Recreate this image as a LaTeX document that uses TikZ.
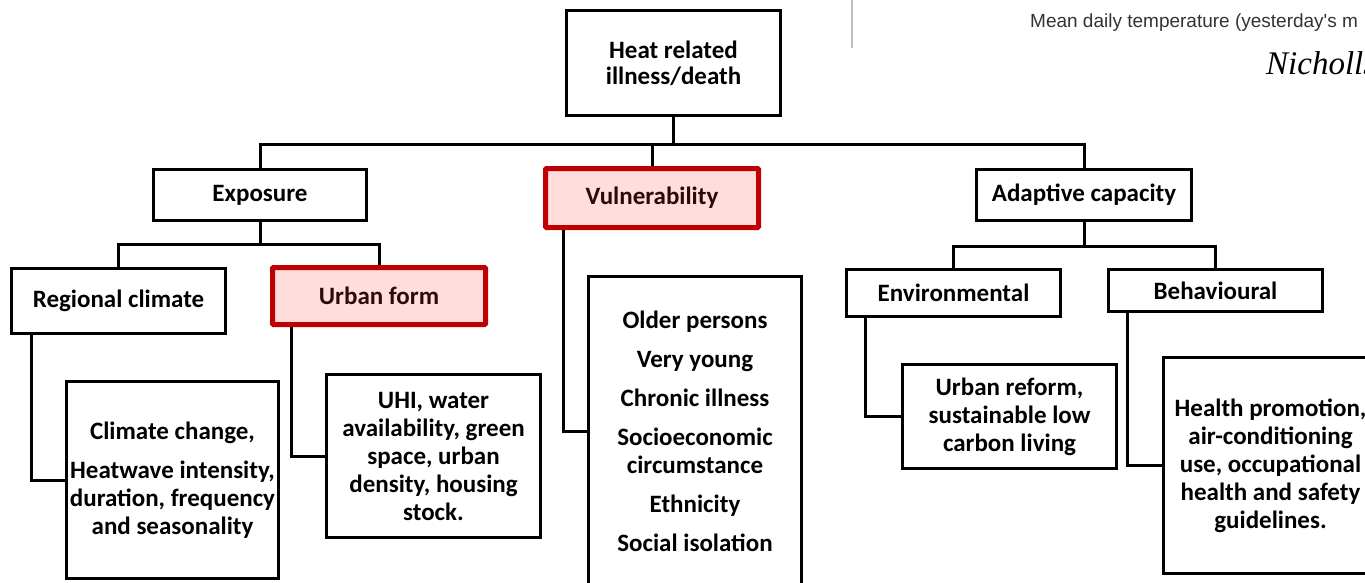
\documentclass[tikz,border=0pt]{standalone}
\usepackage{fontspec}
\setmainfont{Carlito}
\newfontfamily\sansfig{Liberation Sans}[Ligatures=TeXOff]
\newfontfamily\seriffig{Liberation Serif}
\usetikzlibrary{backgrounds,shadows}
\definecolor{boxred}{RGB}{192,0,0}
\definecolor{boxpink}{RGB}{255,221,221}
\definecolor{redtext}{RGB}{45,10,10}

\begin{document}
\begin{tikzpicture}[x=1pt,y=-1pt,
  box/.style={draw=black,line width=3pt,fill=white,align=center,inner sep=0pt,
    font=\bfseries\fontsize{25}{28}\selectfont},
  redbox/.style={box,draw=boxred,line width=5pt,fill=boxpink,text=redtext,rounded corners=1pt,
    drop shadow={shadow xshift=-1pt,shadow yshift=-1.5pt,fill=black!70,opacity=1}},
  link/.style={line width=3pt}]
\useasboundingbox (0,0) rectangle (1365,583);
\clip (0,0) rectangle (1365,583);

\node[box,minimum width=214pt,minimum height=105pt,font=\bfseries\fontsize{25}{26}\selectfont] (heat) at (673.5,63) {Heat related\\illness/death};

\node[box,minimum width=213pt,minimum height=51pt] (exposure) at (260,195) {Exposure};
\node[redbox,minimum width=213pt,minimum height=59pt] (vulner) at (652,198) {Vulnerability};
\node[box,minimum width=215pt,minimum height=51pt] (adaptive) at (1084,195) {Adaptive capacity};

\node[box,minimum width=214pt,minimum height=65pt] (regional) at (118.5,301) {Regional climate};
\node[redbox,minimum width=213pt,minimum height=57pt] (urban) at (379,296) {Urban form};
\node[box,minimum width=214pt,minimum height=47pt] (environ) at (953.5,293) {Environmental};
\node[box,minimum width=214pt,minimum height=42pt] (behav) at (1215.5,290.5) {Behavioural};

\node[box,minimum width=212pt,minimum height=197pt] (climate) at (172.5,480) {Climate change,\\[11pt]Heatwave intensity,\\duration, frequency\\and seasonality};
\node[box,minimum width=214pt,minimum height=163pt] (uhi) at (433.5,456) {UHI, water\\availability, green\\space, urban\\density, housing\\stock.};
\node[box,minimum width=213pt,minimum height=310pt] (groups) at (695,431.5) {Older persons\\[11pt]Very young\\[11pt]Chronic illness\\[11pt]Socioeconomic\\circumstance\\[11pt]Ethnicity\\[11pt]Social isolation};
\node[box,minimum width=214pt,minimum height=104pt] (reform) at (1009.5,416.5) {Urban reform,\\sustainable low\\carbon living};
\node[box,minimum width=214pt,minimum height=216pt] (health) at (1270.5,465.5) {Health promotion,\\air-conditioning\\use, occupational\\health and safety\\guidelines.};

\node[anchor=base west,inner sep=0pt,font=\sansfig\fontsize{19}{22}\selectfont,text=black!80] (meantemp) at (1030,28) {Mean daily temperature (yesterday's m};
\node[anchor=base west,inner sep=0pt,font=\seriffig\itshape\fontsize{33}{36}\selectfont] (author) at (1266,75) {Nicholls};
\draw[black!25,line width=1.5pt] (852,0) -- (852,48);

\begin{scope}[on background layer]
\fill[white] (0,0) rectangle (1365,583);
\coordinate (bus1) at (673.5,145);
\coordinate (bus2) at (260,244);
\coordinate (bus3) at (1084,246);
\draw[link] (heat.south) -- (bus1);
\draw[link] (exposure.north) |- (adaptive.north |- bus1) -- (adaptive.north);
\draw[link] (vulner.north) -- (vulner.north |- bus1);
\draw[link] (exposure.south) -- (bus2);
\draw[link] (regional.north) |- (urban.north |- bus2) -- (urban.north);
\draw[link] (adaptive.south) -- (bus3);
\draw[link] (environ.north) |- (behav.north |- bus3) -- (behav.north);
\draw[link] ([xshift=21pt]regional.south west) |- (climate.west);
\draw[link] ([xshift=21pt]urban.south west) |- (uhi.west);
\draw[link] ([xshift=20pt]vulner.south west) |- (groups.west);
\draw[link] ([xshift=20pt]environ.south west) |- (reform.west);
\draw[link] ([xshift=20pt]behav.south west) |- (health.west);
\end{scope}
\end{tikzpicture}
\end{document}
